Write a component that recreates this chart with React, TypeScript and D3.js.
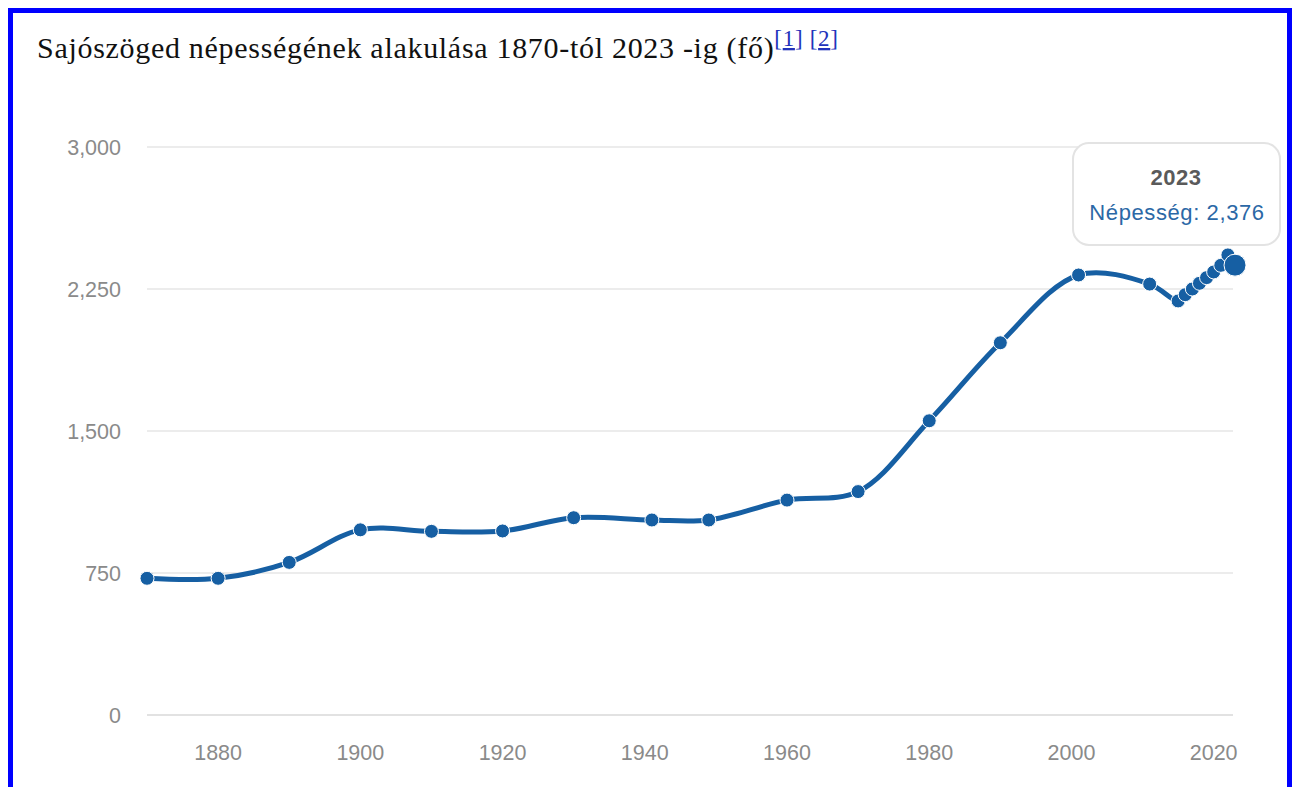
import React from 'react';
import * as d3 from 'd3';

const years = [1870, 1880, 1890, 1900, 1910, 1920, 1930, 1941, 1949, 1960, 1970, 1980, 1990, 2001, 2011, 2015, 2016, 2017, 2018, 2019, 2020, 2021, 2022, 2023];
const population = [722, 722, 806, 978, 970, 972, 1042, 1030, 1030, 1135, 1180, 1554, 1966, 2324, 2276, 2187, 2220, 2250, 2280, 2310, 2340, 2375, 2430, 2376];
const yTicks = [0, 750, 1500, 2250, 3000];
const xTicks = [1880, 1900, 1920, 1940, 1960, 1980, 2000, 2020];
const title = 'Sajószöged népességének alakulása 1870-tól 2023 -ig (fő)';
const tooltipYear = '2023';
const tooltipLabel = 'Népesség: 2,376';

const W = 1298;
const H = 787;
const LINE = '#165fa3';
const SANS = "'Liberation Sans', Arial, sans-serif";

export default function App() {
  const x = d3.scaleLinear().domain([1870, 2023]).range([147, 1235]);
  const y = d3.scaleLinear().domain([0, 3000]).range([715, 147]);
  const pts = years.map((yr, i) => ({ yr, v: population[i] }));

  const line = d3.line<{ yr: number; v: number }>()
    .x(d => x(d.yr))
    .y(d => y(d.v))
    .curve(d3.curveCatmullRom.alpha(0.5));

  const fmt = d3.format(',');
  const last = pts[pts.length - 1];

  return (
    <svg width={W} height={H} style={{ position: 'absolute', left: 0, top: 0, background: '#fff' }}>
      <rect x={10.5} y={10.5} width={1279} height={800} fill="#fff" stroke="#0000ff" strokeWidth={5} />

      <text x={37} y={58} fontFamily="'Liberation Serif', 'Times New Roman', serif" fontSize={30} letterSpacing={0.7} fill="#111">
        {title}
        <tspan fontSize={23} dy={-12} fill="#2233bb">[</tspan>
        <tspan fontSize={23} fill="#2233bb" textDecoration="underline">1</tspan>
        <tspan fontSize={23} fill="#2233bb">] [</tspan>
        <tspan fontSize={23} fill="#2233bb" textDecoration="underline">2</tspan>
        <tspan fontSize={23} fill="#2233bb">]</tspan>
      </text>

      {yTicks.map(t => (
        <g key={t}>
          <line x1={147} x2={1233} y1={y(t)} y2={y(t)} stroke={t === 0 ? '#e2e2e2' : '#d9d9d9'} strokeWidth={t === 0 ? 2 : 1} />
          <text x={121} y={y(t)} dy="0.36em" textAnchor="end" fontFamily={SANS} fontSize={21.5} fill="#8a8a8a">
            {fmt(t)}
          </text>
        </g>
      ))}

      {xTicks.map(t => (
        <text key={t} x={x(t)} y={752} dy="0.36em" textAnchor="middle" fontFamily={SANS} fontSize={21.5} fill="#8a8a8a">
          {t}
        </text>
      ))}

      <path d={line(pts) || ''} fill="none" stroke={LINE} strokeWidth={5} strokeLinejoin="round" />

      {pts.slice(0, -1).map(p => (
        <circle key={p.yr} cx={x(p.yr)} cy={y(p.v)} r={7} fill={LINE} stroke="#fff" strokeWidth={1} />
      ))}
      <circle cx={x(last.yr)} cy={y(last.v)} r={11} fill={LINE} stroke="#fff" strokeWidth={1} />

      <g>
        <rect x={1073} y={143} width={207} height={102} rx={16} fill="#fff" stroke="#e3e3e3" strokeWidth={2} />
        <text x={1176} y={177} dy="0.36em" textAnchor="middle" fontFamily={SANS} fontSize={22} letterSpacing={0.5} fontWeight="bold" fill="#5a5a5a">
          {tooltipYear}
        </text>
        <text x={1177} y={212} dy="0.36em" textAnchor="middle" fontFamily={SANS} fontSize={22} letterSpacing={0.6} fill="#2b68a6">
          {tooltipLabel}
        </text>
      </g>
    </svg>
  );
}
